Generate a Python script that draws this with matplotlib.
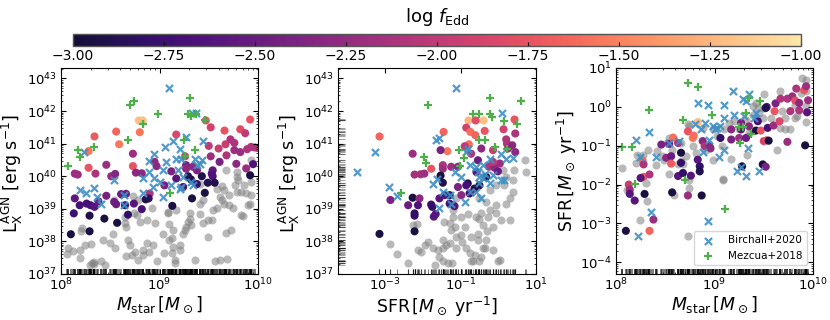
import matplotlib
matplotlib.use('Agg')
import matplotlib.pyplot as plt
import numpy as np
from matplotlib.colors import LinearSegmentedColormap, Normalize
from matplotlib.cm import ScalarMappable
from matplotlib.ticker import LogLocator, NullLocator

# all values are log10
# panel 1: Mstar vs LX
m1_col = [8.28,8.34,8.56,8.59,8.80,8.79,8.83,8.73,8.28,9.92,9.66,9.82,9.47,9.17,9.52,9.87,9.60,9.67,9.72,9.76,
          9.76,9.82,9.89,9.93,9.97,9.68,9.50,9.52,9.61,9.78,9.95,9.88,9.92,9.54,9.53,9.54,9.49,9.56,9.46,9.33,
          9.13,8.57,8.44,8.29,8.10,8.29,8.13,8.19,8.14,8.14,8.17,8.35,8.46,8.51,8.55,8.73,8.76,8.82,8.95,8.97,
          9.12,9.05,8.90,8.61,8.66,8.74,8.54,8.46,8.56,8.65,8.68,8.82,8.89,8.86,8.26,8.30,8.34,8.38,9.27,9.27,
          9.34,9.29,9.32,9.38,9.43,9.17,9.24,9.38,9.26]
lx1_col = [40.77,41.22,41.37,40.98,41.35,41.71,41.71,40.31,40.26,41.74,41.40,41.44,41.71,41.28,41.50,41.32,40.85,40.98,41.13,41.02,
           40.80,40.74,40.83,40.90,40.88,40.64,40.93,40.61,40.44,40.38,40.37,40.24,40.03,40.18,40.08,40.00,39.80,39.80,39.49,39.32,
           39.09,38.57,38.70,38.31,38.22,38.79,38.86,39.11,39.32,40.08,40.05,40.08,40.35,40.00,40.07,40.69,40.11,40.09,40.44,40.31,
           40.15,39.72,39.47,39.45,39.46,39.16,39.21,39.40,39.14,39.11,38.82,38.99,39.32,39.29,39.16,39.11,39.06,39.23,40.34,40.23,
           40.29,40.00,39.90,39.76,40.00,39.93,39.67,40.18,40.61]
f1_col = [-1.55,-1.7,-1.65,-1.55,-1.55,-1.2,-1.2,-1.75,-1.75,-1.75,-1.75,-1.8,-1.8,-1.85,-1.9,-2.0,-1.95,-1.95,-2.1,-2.1,
          -2.2,-2.2,-2.1,-2.1,-2.1,-2.1,-2.0,-2.2,-2.4,-2.3,-2.65,-2.2,-2.95,-2.55,-2.6,-2.65,-2.9,-2.9,-2.95,-2.95,
          -2.95,-2.95,-2.95,-2.95,-2.95,-2.9,-2.75,-2.7,-2.55,-2.2,-2.2,-2.1,-2.2,-2.25,-2.35,-2.2,-2.3,-2.3,-2.3,-2.3,
          -2.4,-2.4,-2.1,-2.5,-2.5,-2.6,-2.5,-2.4,-2.5,-2.7,-2.8,-2.7,-2.8,-2.9,-2.7,-2.7,-2.6,-2.5,-2.4,-2.3,
          -2.3,-2.9,-2.9,-2.8,-2.9,-2.6,-2.7,-2.4,-1.95]
m1_gray = [8.07,8.06,8.12,8.19,8.24,8.30,8.21,8.20,8.19,8.33,8.29,8.31,8.34,8.41,8.45,8.43,8.50,8.55,8.53,8.54,
           8.65,8.66,8.68,8.70,8.66,8.75,8.72,8.83,8.87,8.93,8.89,8.83,8.78,8.97,9.04,9.10,9.13,9.14,9.13,9.05,
           9.16,9.16,9.21,9.21,9.24,9.26,9.31,9.31,9.32,9.27,9.29,9.36,9.49,9.56,9.61,9.69,9.68,9.73,9.83,9.85,
           9.54,9.44,9.41,9.44,9.49,9.53,9.58,9.61,9.63,9.65,9.41,9.58,9.63,9.68,9.79,9.79,9.80,9.86,9.93,9.93,
           9.77,9.83,9.79,9.88,9.93,9.65,9.71,9.75,9.90,9.92,9.17,9.09,9.09,8.92,8.73,8.78,8.74,8.77,8.87,8.95,
           9.10,9.14,8.80,9.71,9.41,8.65]
lx1_gray = [37.81,37.60,37.71,37.73,37.89,37.92,38.40,38.33,37.50,37.38,37.28,37.33,37.31,37.40,37.28,38.04,37.94,37.79,38.24,39.27,
            38.57,38.45,38.04,37.89,37.55,37.68,37.58,37.73,37.94,37.89,37.68,37.58,37.43,37.40,38.24,38.04,38.09,37.84,37.63,37.63,
            37.43,37.33,37.89,37.73,38.24,38.35,38.86,38.70,38.50,38.45,38.60,37.43,38.12,37.40,37.43,37.46,38.27,38.35,38.81,38.79,
            38.96,39.27,38.84,38.55,38.65,38.65,39.01,39.37,39.27,39.57,39.76,39.62,39.70,40.20,40.13,39.98,39.88,39.72,39.83,40.51,
            39.72,39.52,39.52,39.47,39.42,39.16,39.11,39.01,39.11,39.16,38.96,38.91,38.86,39.04,39.39,39.27,38.88,38.81,38.65,38.55,
            38.53,38.35,38.60,39.42,39.16,38.76]
m1_b = [9.10,9.33,9.37,8.23,8.19,8.25,8.34,8.37,8.41,8.54,8.64,8.64,8.83,8.83,8.89,8.89,8.94,8.94,8.93,9.00,
        9.04,9.06,9.14,9.07,9.04,9.12,9.21,9.27,9.22,9.17,9.36,9.44,9.41,9.43,9.34,9.22,9.21,9.38,9.32,9.24,9.19]
lx1_b = [42.71,41.94,41.94,40.74,39.59,39.47,39.64,39.37,39.16,39.88,39.42,39.11,39.49,39.93,40.13,40.47,40.69,39.93,39.67,39.83,
         40.18,40.90,41.07,40.44,39.37,39.72,40.83,41.20,40.54,40.54,40.54,41.09,40.39,40.49,39.72,39.67,39.62,40.34,39.83,39.98,40.18]
m1_g = [8.07,8.17,8.19,8.34,8.68,8.70,8.74,8.83,8.98,9.11,9.31,9.29,9.32,9.37,9.46,9.25,9.36,9.26]
lx1_g = [40.30,40.80,40.59,40.90,41.10,42.19,42.31,41.61,41.90,39.50,42.39,41.90,41.84,41.90,41.71,41.10,40.80,40.61]

# panel 2: SFR vs LX
s2_col = [-3.15,-0.79,-0.39,-0.60,0.43,-1.45,-1.35,-0.85,-0.74,-0.61,-0.36,-0.78,-2.27,-1.53,-1.78,-2.22,-2.06,-1.96,-1.47,-1.47,
          -1.53,-1.47,-2.27,-2.09,-2.86,-2.39,-2.13,-2.22,-2.22,-2.22,-3.15,-1.78,-1.75,-1.71,-1.66,-1.56,-1.42,-1.29,-1.16,-1.29,
          -1.07,-0.81,-0.85,-0.98,-0.89,-0.45,-0.14,0.14,0.21,0.23,0.45,0.26,0.45,0.37,-0.25,-0.10,-0.01,0.04,-0.54,-0.58,
          -1.25,-0.72,-1.07,-0.50,-0.63,-0.76,-0.32,-0.14]
lx2_col = [41.22,41.71,41.71,41.71,41.74,41.36,40.77,41.49,41.36,41.26,41.39,40.98,40.69,40.80,40.23,40.05,40.06,40.08,40.34,40.23,
           40.02,39.80,39.34,39.32,39.27,39.11,39.11,38.86,38.79,38.31,38.23,39.13,39.06,38.76,38.84,39.32,39.42,39.16,39.08,39.42,
           39.67,39.78,39.72,39.42,40.92,40.85,40.80,41.44,41.13,41.00,41.31,40.85,40.74,40.95,40.29,40.26,40.15,40.39,40.49,40.13,
           40.29,40.69,40.29,39.72,39.62,39.47,39.98,40.44]
f2_col = [-1.65,-1.25,-1.2,-1.8,-1.75,-1.65,-1.55,-1.9,-1.6,-1.65,-1.75,-1.6,-2.2,-2.4,-1.75,-2.15,-2.15,-2.2,-2.1,-2.2,
          -2.95,-2.9,-2.95,-2.3,-2.4,-2.5,-2.65,-2.8,-2.8,-2.95,-2.95,-2.75,-2.8,-2.6,-2.6,-2.6,-2.6,-2.7,-2.6,-2.8,
          -2.4,-2.9,-2.7,-2.3,-2.0,-2.3,-1.95,-1.9,-2.1,-2.1,-2.1,-2.2,-2.3,-2.3,-2.1,-2.3,-2.5,-2.2,-2.5,-2.6,
          -2.2,-2.1,-2.3,-2.9,-2.9,-2.8,-2.9,-2.0]
s2_gray = [0.70,0.74,0.41,0.12,0.21,0.39,0.14,0.39,0.30,-0.05,-0.23,0.21,-0.05,-0.23,0.32,0.08,-0.05,-0.27,-0.14,-0.30,
           -0.45,-0.58,-0.51,-0.41,-0.81,-0.98,-1.20,-1.20,-1.16,-1.25,-1.45,-1.29,-2.27,-2.15,-2.86,-2.69,-2.39,-2.13,-2.04,-1.94,
           -1.73,-1.60,-1.47,-1.58,-1.47,-1.69,-1.38,-1.29,-1.34,-1.23,-1.12,-0.98,-0.96,-0.85,-0.76,-0.63,-0.67,-0.72,-0.52,-0.41,
           -0.36,-0.45,-0.54,-0.54,-0.32,-0.01,0.05,-0.14,-1.12,-0.50,-0.32,-0.89,-0.72,-1.12,-1.47,-1.87]
lx2_gray = [40.51,40.13,40.18,40.18,39.98,39.88,39.72,39.52,39.32,39.72,39.57,39.16,39.11,38.96,38.65,38.65,38.86,38.76,38.45,38.33,
            38.86,38.76,38.70,38.50,38.84,38.76,38.76,38.96,38.45,38.35,38.60,38.55,38.50,38.53,37.91,37.61,37.35,37.73,37.68,37.89,
            37.79,37.73,37.79,37.53,37.41,37.28,37.89,37.94,37.33,37.35,37.79,38.21,37.99,37.79,37.63,37.58,37.41,37.41,37.41,37.79,
            37.79,37.53,38.24,38.04,38.04,37.41,37.43,37.73,39.32,39.32,39.21,38.45,38.14,38.14,38.04,37.99]
s2_b = [-1.12,-3.75,-3.27,-2.90,-2.69,-1.65,-1.56,0.11,-1.58,-1.73,-1.63,-1.47,-1.29,-1.25,-1.16,-0.85,-0.81,-0.74,-0.98,-0.87,
        -0.76,-0.58,-0.45,-0.54,-0.50,-0.41,-0.23,-0.23,-0.34,0.08,0.21,0.39,0.08,0.14,-0.50,-0.58,-0.14,-0.41]
lx2_b = [42.71,40.13,40.74,39.67,39.39,41.10,41.18,41.94,39.04,39.76,39.91,39.52,39.42,39.16,40.13,40.74,40.85,40.34,39.98,39.21,
         39.52,39.52,39.32,40.13,39.98,40.34,40.54,39.78,40.08,40.69,40.54,40.57,39.88,39.88,39.78,40.29,40.03,39.93]
s2_g = [-1.87,-2.59,-1.96,-1.91,-1.03,-0.91,-1.01,-0.67,-0.50,-0.23,-0.23,-0.16,0.14,0.61,0.50,-0.51,-0.36,-0.10,0.24]
lx2_g = [42.19,39.50,40.59,40.42,40.80,40.57,40.31,41.90,41.90,42.39,41.90,41.82,41.69,42.30,41.61,41.10,41.10,40.90,40.82]

# panel 3: Mstar vs SFR
m3_col = [8.27,8.28,8.28,8.25,8.34,8.13,8.14,8.14,8.19,8.29,8.10,8.34,8.38,8.46,8.54,8.58,8.63,8.51,8.56,8.56,
          8.66,8.66,8.63,8.68,8.76,8.57,8.73,8.87,8.73,8.83,8.78,8.79,8.88,8.90,8.96,8.95,8.83,8.85,8.85,9.06,
          9.17,9.17,9.27,9.28,9.25,9.35,9.42,9.47,9.54,9.50,9.53,9.55,9.49,9.52,9.53,9.62,9.61,9.60,9.66,9.67,
          9.74,9.79,9.83,9.82,9.77,9.86,9.86,9.91,9.93,9.95,9.94,9.92,9.74,9.44,9.32,9.52,9.27]
s3_col = [-1.37,-1.48,-1.80,-1.83,-1.74,-2.00,-2.13,-2.24,-2.41,-2.24,-3.19,-3.19,-2.90,-0.97,-0.95,-0.79,-0.93,-1.31,-1.27,-1.46,
          -1.18,-1.44,-1.78,-1.70,-1.77,-2.20,-2.28,-2.28,-0.63,-0.39,-0.80,-0.74,-0.88,-1.01,-1.07,-1.01,-1.36,-1.53,-1.66,-0.80,
          -0.84,-0.58,-0.41,-1.53,-0.80,-0.50,-0.61,-0.61,-0.54,-0.88,-0.86,-0.87,-1.48,-1.54,0.00,0.09,-0.11,-0.48,-0.37,0.21,
          0.21,0.27,0.47,0.16,-0.11,-0.09,0.10,0.43,0.53,0.17,-0.14,-0.99,-0.90,-0.37,-0.80,-0.03,-0.58]
f3_col = [-1.6,-2.1,-1.7,-2.6,-2.1,-1.95,-2.2,-2.6,-2.6,-2.95,-2.95,-1.65,-2.2,-2.4,-2.5,-1.6,-2.1,-2.3,-2.5,-1.7,
          -2.95,-2.8,-2.6,-2.8,-2.6,-2.95,-2.2,-2.95,-1.75,-1.2,-1.55,-1.6,-2.3,-2.1,-2.25,-2.3,-2.6,-2.8,-2.9,-2.8,
          -2.4,-2.3,-2.4,-2.95,-2.2,-2.3,-2.95,-1.75,-2.7,-1.9,-1.8,-2.95,-2.95,-2.4,-2.6,-2.4,-1.75,-2.2,-1.85,-2.1,
          -2.1,-2.2,-2.1,-1.8,-2.1,-2.1,-2.3,-1.75,-2.2,-2.2,-2.6,-2.95,-2.2,-2.7,-2.5,-2.9,-2.6]
m3_gray = [8.06,8.21,8.27,8.32,8.20,8.41,8.42,8.54,8.52,8.57,8.66,8.74,8.73,8.66,8.71,8.81,8.91,8.98,8.74,8.74,
           8.54,8.59,8.30,8.31,8.24,8.73,8.11,9.09,9.09,9.17,9.33,9.63,9.08,9.03,9.15,9.20,9.32,9.39,9.45,9.49,
           9.50,9.57,9.66,9.50,9.67,9.72,9.77,9.72,9.84,9.89,9.93,9.93,9.88,9.82,9.93,9.93,9.82,9.69,9.35,9.25,
           9.10,8.98,8.88,8.78,8.47,8.49,8.63,8.68,9.42,9.39,9.44]
s3_gray = [-1.57,-1.24,-1.24,-1.10,-1.44,-1.49,-1.14,-0.80,-0.93,-1.10,-0.93,-0.50,-0.45,-1.40,-1.27,-1.18,-1.10,-1.36,-1.87,-2.08,
           -1.74,-2.28,-1.96,-2.41,-2.90,-3.33,-2.13,-1.85,-1.89,-1.34,-1.25,-1.10,-1.01,-0.75,-0.41,-0.37,-0.33,-0.20,-0.15,-0.28,
           -0.03,-0.28,0.40,0.32,-0.54,-0.58,-0.58,-0.28,-0.24,0.74,0.70,0.40,0.36,0.06,0.02,-0.39,-0.28,-0.11,-0.67,-0.58,
           -0.58,-0.58,-0.54,-1.01,-1.27,-1.36,-1.48,-1.48,0.10,0.02,-0.03]
m3_b = [8.22,8.36,8.93,8.34,8.20,8.24,8.41,8.54,8.64,8.83,8.93,9.10,9.19,9.29,9.35,9.32,9.20,9.30,9.42,9.10,
        8.80,8.86,8.90,8.98,9.03,9.06,9.01,8.94,8.88,9.05,9.10,9.34,9.23,9.27,9.32,9.45,9.40]
s3_b = [-3.33,-2.71,-2.94,-0.65,-0.84,-1.29,-1.29,-0.93,-0.88,0.10,0.04,0.06,0.40,0.21,0.34,0.15,-0.20,-0.24,-0.15,-0.28,
        -0.43,-0.58,-0.41,-0.50,-0.54,-0.48,-0.58,-0.84,-1.17,-1.29,-1.12,-1.05,-1.65,-1.54,-1.77,-1.66,-0.28]
m3_g = [8.06,8.16,8.19,8.34,8.68,8.73,8.83,8.70,8.97,9.11,9.25,9.29,9.26,9.32,9.35,9.37,9.46]
s3_g = [-1.03,-1.04,-1.98,-0.09,-0.35,0.62,0.51,-1.89,-0.22,-2.62,-0.51,-0.51,-0.93,-0.15,0.23,-0.69,0.15]

cmap = LinearSegmentedColormap.from_list('mag', plt.cm.magma(np.linspace(0.1, 0.95, 256)))
norm = Normalize(-3, -1)
blue = '#3f8fc4'
green = '#4daf4a'


def pw(v):
    return 10.0 ** np.array(v)


def panel(ax, x_gray, y_gray, x_col, y_col, f_col, x_b, y_b, x_g, y_g, yrug=False):
    ax.scatter(pw(x_gray), pw(y_gray), s=34, c='gray', alpha=0.55, lw=0)
    ax.scatter(pw(x_col), pw(y_col), s=34, c=f_col, cmap=cmap, norm=norm, lw=0)
    ax.scatter(pw(x_b), pw(y_b), s=26, marker='x', c=blue, lw=1.6, alpha=0.9, label='Birchall+2020')
    ax.scatter(pw(x_g), pw(y_g), s=32, marker='+', c=green, lw=1.6, label='Mezcua+2018')
    if yrug:
        ax.vlines(pw(x_gray + x_col), 0, 0.025, transform=ax.get_xaxis_transform(), color='k', alpha=0.5, lw=0.8)
        ax.hlines(pw(y_gray + y_col), 0, 0.035, transform=ax.get_yaxis_transform(), color='k', alpha=0.35, lw=0.8)
    else:
        # this rug is nearly solid in the reference
        ax.vlines(pw(x_gray + x_col + x_b + x_g), 0, 0.025, transform=ax.get_xaxis_transform(), color='k', alpha=0.6, lw=1.2)
    ax.set_xscale('log')
    ax.set_yscale('log')
    ax.tick_params(which='major', direction='in', top=True, right=True, labelsize=9.5, length=3.5, width=0.8, pad=3)
    ax.tick_params(axis='x', which='major', pad=2)
    ax.tick_params(which='minor', direction='in', top=True, right=True, length=1.6, width=0.5)


fig = plt.figure(figsize=(8.3, 3.2), dpi=100)
W, H = 830, 320
top, bot = 68, 274


def add(x0, x1):
    return fig.add_axes([x0 / W, 1 - bot / H, (x1 - x0) / W, (bot - top) / H])


ax1 = add(61, 258)
ax2 = add(338, 536)
ax3 = add(616, 813)

panel(ax1, m1_gray, lx1_gray, m1_col, lx1_col, f1_col, m1_b, lx1_b, m1_g, lx1_g)
panel(ax2, s2_gray, lx2_gray, s2_col, lx2_col, f2_col, s2_b, lx2_b, s2_g, lx2_g, yrug=True)
panel(ax3, m3_gray, s3_gray, m3_col, s3_col, f3_col, m3_b, s3_b, m3_g, s3_g)

lx_label = r'L$_{\rm X}^{\rm AGN}$ [erg s$^{-1}$]'
m_label = r'$M_{\rm star}\,[M_\odot]$'
sfr_label = r'SFR$\,[M_\odot$ yr$^{-1}]$'

ax1.set_xlim(1e8, 1e10)
ax1.set_ylim(1e37, 10 ** 43.32)
ax1.set_xticks([1e8, 1e9, 1e10])
ax1.set_yticks(10.0 ** np.arange(37, 44))
ax1.set_xlabel(m_label, fontsize=12.5)
ax1.set_ylabel(lx_label, fontsize=12.5)

ax2.set_xlim(10 ** -4.25, 10)
ax2.set_ylim(1e37, 10 ** 43.32)
ax2.set_xticks([1e-3, 1e-1, 1e1])
ax2.xaxis.set_minor_locator(NullLocator())
ax2.set_yticks(10.0 ** np.arange(37, 44))
ax2.set_xlabel(sfr_label, fontsize=12.5)
ax2.set_ylabel(lx_label, fontsize=12.5)

ax3.set_xlim(1e8, 1e10)
ax3.set_ylim(10 ** -4.3, 10)
ax3.set_xticks([1e8, 1e9, 1e10])
ax3.set_yticks(10.0 ** np.arange(-4, 2))
ax3.set_xlabel(m_label, fontsize=12.5)
ax3.set_ylabel(sfr_label, fontsize=12.5)
ax3.legend(loc='lower right', fontsize=7.5, bbox_to_anchor=(0.985, 0.03), borderaxespad=0.3, handletextpad=0.9)

for ax in (ax1, ax2, ax3):
    ax.yaxis.set_minor_locator(LogLocator(base=10, subs=np.arange(2, 10), numticks=20))
    ax.xaxis.set_label_coords(0.5, -0.1)
ax1.xaxis.set_minor_locator(LogLocator(base=10, subs=np.arange(2, 10), numticks=20))
ax3.xaxis.set_minor_locator(LogLocator(base=10, subs=np.arange(2, 10), numticks=20))
ax1.yaxis.set_label_coords((25 - 61) / 197, 0.49)
ax2.yaxis.set_label_coords((302 - 338) / 198, 0.49)
ax3.yaxis.set_label_coords((579 - 616) / 197, 0.5)

cax = fig.add_axes([73 / W, 1 - 46 / H, 728 / W, 12 / H])
cb = fig.colorbar(ScalarMappable(norm=norm, cmap=cmap), cax=cax, orientation='horizontal')
cb.set_ticks(np.arange(-3, -0.99, 0.25))
cb.ax.tick_params(direction='in', labelsize=10, length=3, pad=2)
cb.outline.set_edgecolor('#555555')
cb.outline.set_linewidth(1.0)
cb.ax.set_title(r'log $f_{\rm Edd}$', fontsize=13, pad=9)

fig.savefig('out.png', dpi=100)
